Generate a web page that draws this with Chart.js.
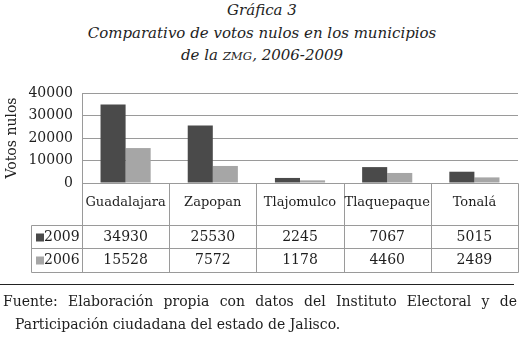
<!DOCTYPE html>
<html>
<head>
<meta charset="utf-8">
<script src="https://cdn.jsdelivr.net/npm/chart.js@4.4.0/dist/chart.umd.min.js"></script>
<style>
  body { margin: 0; background: #fff; width: 524px; height: 337px; overflow: hidden; position: relative;
         font-family: 'DejaVu Serif', serif; color: #1e1e1e; }
  #title { position: absolute; top: -1px; left: 0; width: 524px; text-align: center;
           font-style: italic; font-size: 15px; line-height: 22.5px; }
  #title .sc { font-size: 0.78em; }
  #wrap { position: absolute; top: 0; left: 0; width: 524px; height: 285px; }
  #rule { position: absolute; top: 284px; left: 0; width: 514px; border-top: 1px solid #222; }
  #note { position: absolute; top: 290px; left: 3px; width: 514px; font-size: 14px; line-height: 23px; }
  #note .l1 { text-align: justify; text-align-last: justify; white-space: nowrap; }
  #note .l2 { padding-left: 12px; white-space: nowrap; }
</style>
</head>
<body>
<div id="title">Gráfica 3<br>Comparativo de votos nulos en los municipios<br>de la <span class="sc">ZMG</span>, 2006-2009</div>
<div id="wrap"><canvas id="chart"></canvas></div>
<div id="rule"></div>
<div id="note"><div class="l1">Fuente: Elaboración propia con datos del Instituto Electoral y de</div><div class="l2">Participación ciudadana del estado de Jalisco.</div></div>
<script>
const categories = ["Guadalajara", "Zapopan", "Tlajomulco", "Tlaquepaque", "Tonalá"];
const years = ["2009", "2006"];
const votes2009 = [34930, 25530, 2245, 7067, 5015];
const votes2006 = [15528, 7572, 1178, 4460, 2489];
const yTicks = [0, 10000, 20000, 30000, 40000];

const colors = ["#4a4a4a", "#a6a6a6"];
const serif = "'DejaVu Serif', serif";

// data table under the plot, columns follow the x scale
const tablePlugin = {
  id: "dataTable",
  afterDraw(chart) {
    const { ctx, chartArea: a } = chart;
    const xs = chart.scales.x;
    const rows = [votes2009, votes2006];
    const top = Math.round(a.bottom) + 0.5;
    const r1 = top + 42, r2 = r1 + 23, r3 = r2 + 24;
    const legLeft = 31.5;
    const left = Math.round(a.left) + 0.5, right = Math.round(a.right) + 0.5;
    const colW = (a.right - a.left) / categories.length;

    ctx.save();
    ctx.strokeStyle = "#9a9a9a";
    ctx.lineWidth = 1;
    ctx.beginPath();
    ctx.moveTo(left, top); ctx.lineTo(right, top);
    [r1, r2, r3].forEach(y => { ctx.moveTo(legLeft, y); ctx.lineTo(right, y); });
    ctx.moveTo(legLeft, r1); ctx.lineTo(legLeft, r3);
    ctx.moveTo(left, a.top); ctx.lineTo(left, r3);
    for (let i = 1; i <= categories.length; i++) {
      const x = Math.round(a.left + i * colW) + 0.5;
      ctx.moveTo(x, top); ctx.lineTo(x, r3);
    }
    ctx.stroke();

    ctx.fillStyle = "#1e1e1e";
    ctx.textAlign = "center";
    ctx.textBaseline = "middle";
    categories.forEach((c, i) => {
      const cx = xs.getPixelForValue(i);
      ctx.font = "13px " + serif;
      ctx.fillText(c, cx, top + 19);
      ctx.font = "14px " + serif;
      ctx.fillText(String(rows[0][i]), cx, r1 + 12);
      ctx.fillText(String(rows[1][i]), cx, r2 + 12);
    });

    // legend cells
    ctx.textAlign = "left";
    ctx.font = "14px " + serif;
    [r1, r2].forEach((y, k) => {
      ctx.fillStyle = colors[k];
      ctx.fillRect(36, y + 8, 8, 8);
      ctx.fillStyle = "#1e1e1e";
      ctx.fillText(years[k], 44, y + 12);
    });
    ctx.restore();
  }
};

new Chart(document.getElementById("chart"), {
  type: "bar",
  data: {
    labels: categories,
    datasets: [
      { label: years[0], data: votes2009, backgroundColor: colors[0] },
      { label: years[1], data: votes2006, backgroundColor: colors[1] }
    ]
  },
  options: {
    responsive: true,
    maintainAspectRatio: false,
    animation: false,
    layout: { padding: { top: 93, right: 6, bottom: 102, left: 0 } },
    datasets: { bar: { categoryPercentage: 0.575, barPercentage: 1 } },
    plugins: { legend: { display: false }, tooltip: { enabled: false } },
    scales: {
      x: { display: false },
      y: {
        min: 0,
        max: 40000,
        afterFit: s => { s.width = 82; },
        afterBuildTicks: s => { s.ticks = yTicks.map(v => ({ value: v })); },
        ticks: { padding: 9, color: "#1e1e1e", font: { family: serif, size: 14 }, callback: v => String(v) },
        grid: { color: "#9a9a9a", drawTicks: false },
        border: { color: "#9a9a9a" },
        title: { display: true, text: "Votos nulos", color: "#1e1e1e", font: { family: serif, size: 14 } }
      }
    }
  },
  plugins: [tablePlugin]
});
</script>
</body>
</html>
